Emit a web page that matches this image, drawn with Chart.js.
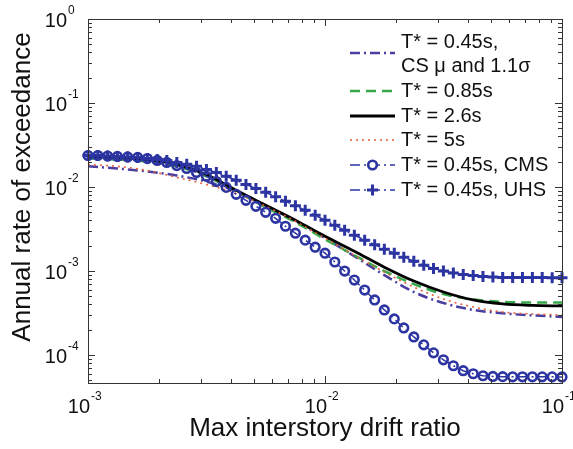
<!DOCTYPE html>
<html>
<head>
<meta charset="utf-8">
<script src="https://cdn.jsdelivr.net/npm/chart.js@4.4.1/dist/chart.umd.min.js"></script>
<style>
  html, body { margin: 0; padding: 0; background: #fff; }
  #wrap { width: 573px; height: 449px; }
</style>
</head>
<body>
<div id="wrap"><canvas id="chart"></canvas></div>
<script>
// drift ratios where the marker series are sampled (about 1/24 decade apart)
const driftMarks = [0.001, 0.0011, 0.00121, 0.00133, 0.00147, 0.00162, 0.00178, 0.00196, 0.00215, 0.00237,
  0.00261, 0.00287, 0.00316, 0.00348, 0.00383, 0.00422, 0.00464, 0.00511, 0.00562, 0.00619,
  0.00681, 0.0075, 0.00825, 0.00909, 0.01, 0.011, 0.0121, 0.0133, 0.0147, 0.0162,
  0.0178, 0.0196, 0.0215, 0.0237, 0.0261, 0.0287, 0.0316, 0.0348, 0.0383, 0.0422,
  0.0464, 0.0511, 0.0562, 0.0619, 0.0681, 0.075, 0.0825, 0.0909, 0.1];
// drift ratios for the plain line series
const driftLines = [0.001, 0.00133, 0.00178, 0.00237, 0.00316, 0.00422, 0.00562, 0.0075, 0.01,
  0.0133, 0.0178, 0.0237, 0.0316, 0.0422, 0.0562, 0.075, 0.1];

const csRate = [0.0176, 0.0166, 0.0153, 0.0137, 0.0116, 0.00887, 0.00605, 0.00391, 0.00246,
  0.0015, 0.000894, 0.000562, 0.000416, 0.000344, 0.000313, 0.000296, 0.000284];
const t085Rate = [0.0218, 0.0212, 0.0201, 0.0176, 0.0134, 0.00887, 0.00573, 0.0038, 0.00239,
  0.00154, 0.000998, 0.000699, 0.000532, 0.000458, 0.000428, 0.000422, 0.000422];
const t26Rate = [0.0231, 0.0225, 0.0212, 0.0185, 0.0141, 0.00912, 0.00605, 0.00402, 0.00259,
  0.00172, 0.00111, 0.000759, 0.000562, 0.000452, 0.000405, 0.000389, 0.000384];
const t5Rate = [0.0185, 0.0176, 0.0157, 0.013, 0.0107, 0.00839, 0.00589, 0.00391, 0.00246,
  0.00154, 0.000971, 0.000644, 0.000464, 0.000373, 0.000325, 0.000308, 0.0003];
const cmsRate = [0.0237, 0.0237, 0.0234, 0.0231, 0.0228, 0.0225, 0.0218, 0.0207, 0.0196, 0.018,
  0.0166, 0.0149, 0.0134, 0.0116, 0.00989, 0.00817, 0.00693, 0.00589, 0.005, 0.00424,
  0.00341, 0.00282, 0.00233, 0.00192, 0.00163, 0.00128, 0.000998, 0.00078, 0.000593, 0.000452,
  0.000344, 0.000269, 0.00021, 0.000164, 0.000132, 0.000106, 0.0000877, 0.0000745, 0.000065, 0.0000598,
  0.0000566, 0.0000555, 0.0000552, 0.000055, 0.000055, 0.000055, 0.0000549, 0.0000549, 0.0000548];
const uhsRate = [0.0237, 0.0237, 0.0234, 0.0231, 0.0228, 0.0225, 0.0218, 0.0212, 0.0207, 0.0196,
  0.0186, 0.0176, 0.0162, 0.0149, 0.0134, 0.012, 0.0107, 0.00962, 0.00863, 0.00763,
  0.00675, 0.00597, 0.00528, 0.0046, 0.00402, 0.0035, 0.00306, 0.00267, 0.00233, 0.00206,
  0.00182, 0.00163, 0.00146, 0.00131, 0.00117, 0.00107, 0.000998, 0.000944, 0.000906, 0.000881,
  0.000859, 0.000847, 0.000838, 0.000835, 0.000835, 0.000834, 0.000834, 0.000833, 0.000833];

const seriesLabels = ['T* = 0.45s,\nCS \u03bc and 1.1\u03c3', 'T* = 0.85s', 'T* = 2.6s', 'T* = 5s',
  'T* = 0.45s, CMS', 'T* = 0.45s, UHS'];
const xDecades = [-3, -2, -1];
const yDecades = [-4, -3, -2, -1, 0];

const FONT = "'Liberation Sans', Arial, sans-serif";
const BLUE = '#2c34a2';

const pts = (xs, ys) => xs.map((x, i) => ({ x: x, y: ys[i] }));

// MATLAB-like box, inward ticks, 10^n labels, y title and legend
Chart.register({
  id: 'matlabAxes',
  afterDatasetsDraw(chart) {
    const ctx = chart.ctx;
    const { left, right, top, bottom } = chart.chartArea;
    const xs = chart.scales.x, ys = chart.scales.y;
    ctx.save();
    ctx.strokeStyle = '#333';
    ctx.lineWidth = 1;
    ctx.setLineDash([]);
    ctx.strokeRect(left + 0.5, top + 0.5, right - left, bottom - top);
    ctx.beginPath();
    for (let d = -5; d <= 0; d++) {
      for (let m = 1; m <= 9; m++) {
        const v = m * Math.pow(10, d);
        if (v < ys.min * 0.999 || v > ys.max * 1.001) continue;
        const py = Math.round(ys.getPixelForValue(v)) + 0.5;
        const len = m === 1 ? 7 : 4;
        ctx.moveTo(left, py); ctx.lineTo(left + len, py);
        ctx.moveTo(right, py); ctx.lineTo(right - len, py);
      }
    }
    for (let d = -3; d <= -1; d++) {
      for (let m = 1; m <= 9; m++) {
        const v = m * Math.pow(10, d);
        if (v < xs.min * 0.999 || v > xs.max * 1.001) continue;
        const px = Math.round(xs.getPixelForValue(v)) + 0.5;
        const len = m === 1 ? 7 : 4;
        ctx.moveTo(px, bottom); ctx.lineTo(px, bottom - len);
        ctx.moveTo(px, top); ctx.lineTo(px, top + len);
      }
    }
    ctx.stroke();
    ctx.restore();
  },
  afterDraw(chart) {
    const ctx = chart.ctx;
    const xs = chart.scales.x, ys = chart.scales.y;
    ctx.save();
    ctx.fillStyle = '#111';
    ctx.textBaseline = 'alphabetic';
    // y tick labels
    yDecades.forEach(d => {
      const py = ys.getPixelForValue(Math.pow(10, d));
      ctx.font = '20px ' + FONT;
      ctx.textAlign = 'right';
      ctx.fillText('10', 67, py + 8);
      ctx.font = '12px ' + FONT;
      ctx.textAlign = 'left';
      ctx.fillText(String(d), 68, py - 5);
    });
    // x tick labels
    xDecades.forEach(d => {
      const px = xs.getPixelForValue(Math.pow(10, d));
      ctx.font = '20px ' + FONT;
      ctx.textAlign = 'right';
      ctx.fillText('10', px + 2, 413);
      ctx.font = '12px ' + FONT;
      ctx.textAlign = 'left';
      ctx.fillText(String(d), px + 3, 400);
    });
    // y axis title
    ctx.save();
    ctx.translate(23, 187);
    ctx.rotate(-Math.PI / 2);
    ctx.font = '26px ' + FONT;
    ctx.textAlign = 'center';
    ctx.textBaseline = 'middle';
    ctx.fillText('Annual rate of exceedance', 0, 0);
    ctx.restore();

    // legend
    const rows = [53, 91, 116, 140, 165, 190];
    const x0 = 350, x1 = 395, tx = 401;
    chart.data.datasets.forEach((ds, i) => {
      const y = rows[i];
      ctx.save();
      ctx.strokeStyle = ds.borderColor;
      ctx.lineWidth = ds.borderWidth;
      ctx.setLineDash(ds.borderDash || []);
      ctx.beginPath();
      ctx.moveTo(x0, y); ctx.lineTo(x1, y);
      ctx.stroke();
      ctx.setLineDash([]);
      if (ds.pointStyle === 'circle') {
        ctx.fillStyle = '#fff';
        ctx.lineWidth = ds.pointBorderWidth;
        ctx.beginPath();
        ctx.arc((x0 + x1) / 2, y, ds.pointRadius, 0, Math.PI * 2);
        ctx.fill();
        ctx.stroke();
      } else if (ds.pointStyle === 'cross') {
        const cx = (x0 + x1) / 2, r = ds.pointRadius;
        ctx.lineWidth = ds.pointBorderWidth;
        ctx.beginPath();
        ctx.moveTo(cx - r, y); ctx.lineTo(cx + r, y);
        ctx.moveTo(cx, y - r); ctx.lineTo(cx, y + r);
        ctx.stroke();
      }
      ctx.restore();
      ctx.font = '20px ' + FONT;
      ctx.fillStyle = '#111';
      ctx.textAlign = 'left';
      ctx.textBaseline = 'middle';
      const lines = ds.label.split('\n');
      if (lines.length > 1) {
        ctx.fillText(lines[0], tx, 42);
        ctx.fillText(lines[1], tx, 66);
      } else {
        ctx.fillText(lines[0], tx, y);
      }
    });
    ctx.restore();
  }
});

const lineSet = (label, ys, color, width, dash, order) => ({
  label: label,
  data: pts(driftLines, ys),
  borderColor: color,
  borderWidth: width,
  borderDash: dash,
  pointRadius: 0,
  cubicInterpolationMode: 'monotone',
  fill: false,
  order: order
});

new Chart(document.getElementById('chart'), {
  type: 'line',
  data: {
    datasets: [
      lineSet(seriesLabels[0], csRate, '#4a3fa0', 2.5, [10, 4, 2, 4], 6),
      lineSet(seriesLabels[1], t085Rate, '#36a84a', 2.5, [10, 6], 5),
      lineSet(seriesLabels[2], t26Rate, '#000000', 2.8, [], 4),
      lineSet(seriesLabels[3], t5Rate, '#e8603a', 1.6, [2, 4], 3),
      {
        label: seriesLabels[4],
        data: pts(driftMarks, cmsRate),
        borderColor: BLUE,
        borderWidth: 1.5,
        borderDash: [10, 4, 2, 4],
        pointStyle: 'circle',
        pointRadius: 4.3,
        pointBorderWidth: 2.6,
        pointBorderColor: BLUE,
        pointBackgroundColor: 'rgba(255,255,255,0)',
        clip: false,
        order: 2
      },
      {
        label: seriesLabels[5],
        data: pts(driftMarks, uhsRate),
        borderColor: BLUE,
        borderWidth: 1.5,
        borderDash: [10, 4, 2, 4],
        pointStyle: 'cross',
        pointRadius: 5.5,
        pointBorderWidth: 3,
        pointBorderColor: BLUE,
        clip: false,
        order: 1
      }
    ]
  },
  options: {
    responsive: true,
    maintainAspectRatio: false,
    animation: false,
    layout: { padding: { top: 19, right: 11, left: 0, bottom: 0 } },
    plugins: {
      legend: { display: false },
      tooltip: { enabled: false }
    },
    scales: {
      x: {
        type: 'logarithmic',
        min: 0.001,
        max: 0.1,
        grid: { display: false },
        border: { display: false },
        ticks: { display: false },
        title: {
          display: true,
          text: 'Max interstory drift ratio',
          color: '#111',
          font: { family: FONT, size: 26 },
          padding: { top: 0, bottom: 5 }
        },
        afterFit(scale) { scale.height = 66; }
      },
      y: {
        type: 'logarithmic',
        min: 4.64e-5,
        max: 1,
        grid: { display: false },
        border: { display: false },
        ticks: { display: false },
        afterFit(scale) { scale.width = 88; }
      }
    }
  }
});
</script>
</body>
</html>
